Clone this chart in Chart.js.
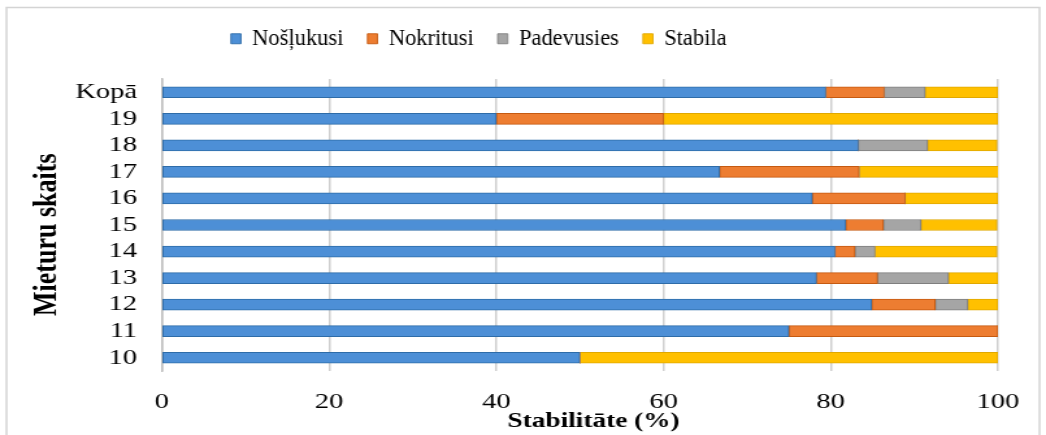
<!DOCTYPE html>
<html>
<head>
<meta charset="utf-8">
<script src="https://cdn.jsdelivr.net/npm/chart.js@4.4.1/dist/chart.umd.min.js"></script>
<style>
  body { margin: 0; background: #fff; }
</style>
</head>
<body>
<canvas id="chart" width="805" height="435" style="width:1046px;height:435px"></canvas>
<script>
// stability shares (%) by number of stakes
const categories = ['Kopā', '19', '18', '17', '16', '15', '14', '13', '12', '11', '10'];
const noslukusi  = [79.4, 40, 83.3, 66.7, 77.8, 81.8, 80.5, 78.3, 84.9, 75, 50];
const nokritusi  = [7.0, 20, 0, 16.7, 11.1, 4.5, 2.4, 7.3, 7.6, 25, 0];
const padevusies = [4.9, 0, 8.3, 0, 0, 4.5, 2.4, 8.5, 3.9, 0, 0];
const stabila    = [8.7, 40, 8.3, 16.7, 11.1, 9.1, 14.6, 5.9, 3.6, 0, 50];
const xTicks = [0, 20, 40, 60, 80, 100];

// canvas is drawn 805 wide and shown 1046 wide
const STRETCH = 1046 / 805;

Chart.defaults.font.family = "'Liberation Serif', 'Times New Roman', serif";
Chart.defaults.color = '#000';

function series(label, data, fill, edge) {
  return {
    label: label,
    data: data,
    backgroundColor: fill,
    borderColor: edge,
    borderWidth: c => (c.raw ? 1 : 0),
    borderSkipped: false,
    barThickness: 11
  };
}

// white background, light frame; legend drawn unstretched and moved up
const frame = {
  id: 'frame',
  beforeDraw(chart) {
    const c = chart.ctx;
    c.save();
    c.fillStyle = '#fff';
    c.fillRect(0, 0, chart.width, chart.height);
    c.strokeStyle = '#d4d4d4';
    c.lineWidth = 1.5;
    c.strokeRect(5, 7.5, 795, 440);
    c.restore();
  },
  afterLayout(chart) {
    const lg = chart.legend;
    lg.top -= 19; lg.bottom -= 19;
    if (lg._wrapped) return;
    lg._wrapped = true;
    const draw = lg.draw.bind(lg);
    lg.draw = function () {
      const c = chart.ctx;
      const mid = (lg.left + lg.right) / 2;
      c.save();
      c.translate(368.5, 0);
      c.scale(1 / STRETCH, 1);
      c.translate(-mid, 0);
      draw();
      c.restore();
    };
  }
};

new Chart(document.getElementById('chart'), {
  type: 'bar',
  data: {
    labels: categories,
    datasets: [
      series('Nošļukusi', noslukusi, '#4d8fd6', '#2e6ca8'),
      series('Nokritusi', nokritusi, '#ed7d31', '#c55a11'),
      series('Padevusies', padevusies, '#a5a5a5', '#7f7f7f'),
      series('Stabila', stabila, '#ffc000', '#e0a800')
    ]
  },
  options: {
    indexAxis: 'y',
    responsive: false,
    maintainAspectRatio: false,
    animation: false,
    layout: { padding: { left: 0, right: 37, top: 22.5, bottom: 0 } },
    plugins: {
      tooltip: { enabled: false },
      legend: {
        position: 'top',
        labels: {
          boxWidth: 10,
          boxHeight: 10,
          padding: 24,
          font: { size: 22.5 }
        }
      }
    },
    scales: {
      x: {
        stacked: true,
        min: 0,
        max: 100,
        afterBuildTicks: s => { s.ticks = xTicks.map(v => ({ value: v })); },
        afterFit: s => { s.height = 64; },
        grid: { color: '#cfcfcf', lineWidth: 1.5, drawTicks: false },
        border: { display: false },
        ticks: { padding: 18, font: { size: 22 } },
        title: {
          display: true,
          text: '    Stabilitāte (%)',
          font: { size: 21, weight: 'bold' },
          padding: { top: 0, bottom: 1 }
        }
      },
      y: {
        stacked: true,
        afterFit: s => { s.width = 124.6; },
        grid: { display: false, drawTicks: false },
        border: { display: true, color: '#bfbfbf', width: 1.5 },
        ticks: { padding: 19, autoSkip: false, font: { size: 22 } },
        title: {
          display: true,
          text: 'Mieturu skaits   ',
          font: { size: 26, weight: 'bold' },
          padding: { top: 21, bottom: 0 }
        }
      }
    }
  },
  plugins: [frame]
});
</script>
</body>
</html>
